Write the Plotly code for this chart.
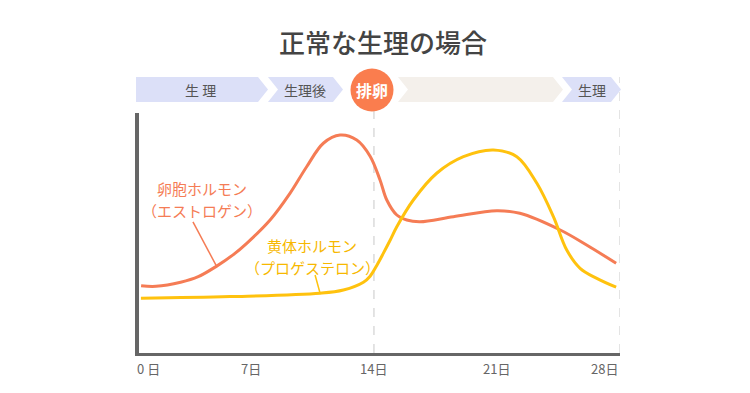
import plotly.graph_objects as go

# ---------------- data ----------------
estrogen_days = [0.75, 1.6, 3.0, 4.0, 5.05, 6.0, 6.76, 8.09, 9.22, 10.17, 11.12, 12.07,
                 13.02, 13.78, 14.35, 14.73, 15.3, 15.87, 16.62, 18.52, 20.99, 22.3,
                 24.6, 26.1, 27.78]
estrogen_vals = [28.0, 27.8, 29.5, 31.8, 36.2, 41.0, 45.7, 55.4, 66.5, 77.6, 87.4, 90.8,
                 88.75, 82.0, 72.0, 63.75, 57.5, 55.4, 54.7, 56.8, 59.3, 58.2,
                 51.25, 45.0, 37.4]

progest_days = [0.74, 5.81, 10.93, 12.26, 13.4, 13.78, 14.16, 14.53, 14.92, 15.3, 16.24,
                17.57, 19.09, 20.8, 22.13, 23.27, 24.21, 24.97, 25.73, 26.68, 27.78]
progest_vals = [22.8, 23.5, 24.9, 26.25, 29.5, 32.0, 36.5, 41.5, 47.0, 52.6, 63.75,
                74.9, 81.8, 84.6, 81.8, 70.7, 56.8, 42.9, 35.3, 31.1, 27.4]

tick_days = [0, 7, 14, 21, 28]
tick_labels = ["0 日", "7日", "14日", "21日", "28日"]

phase_labels = ["生 理", "生理後", "排卵", "", "生理"]
title_text = "正常な生理の場合"
estrogen_label = ["卵胞ホルモン", "（エストロゲン）"]
progest_label = ["黄体ホルモン", "（プロゲステロン）"]

# ---------------- styling ----------------
FONT = "Noto Sans CJK JP"
ORANGE = "#F57C55"
YELLOW = "#FFC20E"
YELLOW_TXT = "#F7B800"
LAVENDER = "#DCE0F8"
BEIGE = "#F4F0EB"
CIRCLE = "#FA7D4E"
AXIS = "#666666"
TXT = "#555555"

W, H = 750, 393
OFF = 8  # page body margin offset
L, R, T, B = 139 - OFF, 620 - OFF, 113 - OFF, 353 - OFF  # plot area (figure pixels)
XMIN, XMAX = 0.63, 28
YMIN, YMAX = 0, 100


def px(x):
    """screen pixel x -> paper"""
    return (x - OFF - L) / (R - L)


def py(y):
    """screen pixel y -> paper"""
    return (B - (y - OFF)) / (B - T)


fig = go.Figure()
fig.add_trace(go.Scatter(x=estrogen_days, y=estrogen_vals, mode="lines",
                         line=dict(color=ORANGE, width=3, shape="spline", smoothing=1.0),
                         hoverinfo="skip", cliponaxis=False))
fig.add_trace(go.Scatter(x=progest_days, y=progest_vals, mode="lines",
                         line=dict(color=YELLOW, width=3, shape="spline", smoothing=1.0),
                         hoverinfo="skip", cliponaxis=False))

shapes = []
# dashed guide lines
shapes.append(dict(type="line", xref="x", yref="paper", x0=14, x1=14, y0=0, y1=py(80),
                   line=dict(color="#C8C8C8", width=1, dash="dash"), layer="below"))
shapes.append(dict(type="line", xref="x", yref="paper", x0=28, x1=28, y0=0, y1=py(77),
                   line=dict(color="#C8C8C8", width=1, dash="dash"), layer="below"))


def chevron(x0, x1, notch, color, top=77, bot=102, depth=10):
    mid = (top + bot) / 2
    pts = [(x0, top), (x1, top), (x1 + depth, mid), (x1, bot), (x0, bot)]
    if notch:
        pts.append((x0 + depth, mid))
    d = "M " + " L ".join(f"{px(a):.5f},{py(b):.5f}" for a, b in pts) + " Z"
    return dict(type="path", xref="paper", yref="paper", path=d,
                fillcolor=color, line=dict(width=0), layer="above")


shapes.append(chevron(136, 258, False, LAVENDER))
shapes.append(chevron(268, 333, True, LAVENDER))
shapes.append(chevron(398, 553, True, BEIGE))
shapes.append(chevron(562, 611, True, LAVENDER))
# ovulation circle
cx, cy, r = 372, 90, 21.5
shapes.append(dict(type="circle", xref="paper", yref="paper",
                   x0=px(cx - r), x1=px(cx + r), y0=py(cy + r), y1=py(cy - r),
                   fillcolor=CIRCLE, line=dict(width=0), layer="above"))
# label pointer lines
shapes.append(dict(type="line", xref="x", yref="y", x0=3.70, y0=54.6, x1=5.07, y1=35.8,
                   line=dict(color=ORANGE, width=1.5)))
shapes.append(dict(type="line", xref="x", yref="y", x0=10.65, y0=32.5, x1=10.93, y1=25.0,
                   line=dict(color=YELLOW, width=1.5)))

ann = []
ann.append(dict(text=title_text, xref="paper", yref="paper", x=px(383), y=py(42),
                showarrow=False, font=dict(family=FONT, size=26, color="#444444", weight=500),
                xanchor="center", yanchor="middle"))
phase_x = [200, 305, 372, 475, 592]
for lab, xx in zip(phase_labels, phase_x):
    if not lab:
        continue
    if lab == "排卵":
        f = dict(family=FONT, size=16, color="white", weight="bold")
        yy = 90
    else:
        f = dict(family=FONT, size=14, color=TXT)
        yy = 89.5
    ann.append(dict(text=lab, xref="paper", yref="paper", x=px(xx), y=py(yy),
                    showarrow=False, font=f, xanchor="center", yanchor="middle"))

for d, lab in zip(tick_days, tick_labels):
    if d == tick_days[0]:
        xa, xv, xs = "left", XMIN, -4
    elif d == tick_days[-1]:
        xa, xv, xs = "right", d, 0
    else:
        xa, xv, xs = "center", d, 0
    ann.append(dict(text=lab, xref="x", yref="paper", x=xv, y=py(368), xshift=xs,
                    showarrow=False, font=dict(family=FONT, size=13, color=AXIS),
                    xanchor=xa, yanchor="middle"))

# two-line curve labels, one annotation per line (screen y of each line)
for lines, xday, ys, col in [(estrogen_label, 4.22, (188, 210), ORANGE),
                             (progest_label, 10.48, (245, 267), YELLOW_TXT)]:
    for txt, yy in zip(lines, ys):
        ann.append(dict(text=txt, xref="x", yref="paper", x=xday, y=py(yy),
                        showarrow=False, font=dict(family=FONT, size=15, color=col),
                        xanchor="center", yanchor="middle", borderpad=0))

fig.update_layout(
    width=W, height=H,
    margin=dict(l=L, r=W - R, t=T, b=H - B, pad=0),
    paper_bgcolor="white", plot_bgcolor="white",
    showlegend=False,
    shapes=shapes, annotations=ann,
    xaxis=dict(range=[XMIN, XMAX], showgrid=False, zeroline=False, showticklabels=False,
               ticks="", showline=True, linecolor=AXIS, linewidth=3, fixedrange=True),
    yaxis=dict(range=[YMIN, YMAX], showgrid=False, zeroline=False, showticklabels=False,
               ticks="", showline=True, linecolor=AXIS, linewidth=4, fixedrange=True),
    font=dict(family=FONT),
)

fig.write_html("out.html", config={"displayModeBar": False})
